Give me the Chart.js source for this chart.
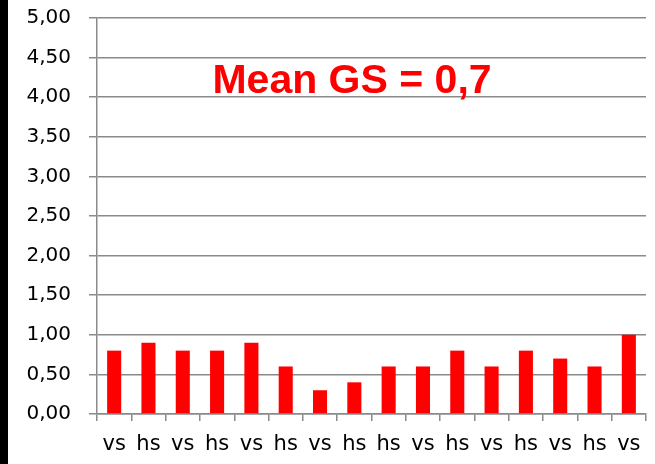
<!DOCTYPE html>
<html>
<head>
<meta charset="utf-8">
<script src="https://cdn.jsdelivr.net/npm/chart.js@4/dist/chart.umd.min.js"></script>
<style>
  html, body { margin: 0; padding: 0; background: #fff; }
  #wrap { position: relative; width: 655px; height: 464px; }
  #strip { position: absolute; left: 0; top: 0; width: 8px; height: 464px; background: #000; }
  canvas { position: absolute; left: 0; top: 0; }
</style>
</head>
<body>
<div id="wrap">
  <canvas id="chart" width="655" height="464"></canvas>
  <div id="strip"></div>
</div>
<script>
const categories = ["vs", "hs", "vs", "hs", "vs", "hs", "vs", "hs", "hs", "vs", "hs", "vs", "hs", "vs", "hs", "vs"];
const gsValues = [0.8, 0.9, 0.8, 0.8, 0.9, 0.6, 0.3, 0.4, 0.6, 0.6, 0.8, 0.6, 0.8, 0.7, 0.6, 1.0];
const meanLabel = "Mean GS = 0,7";

const gridColor = "#8a8a8a";

// text inside the plot, like the original annotation
const meanText = {
    id: "meanText",
    afterDraw(chart) {
        const ctx = chart.ctx;
        ctx.save();
        ctx.fillStyle = "#ff0000";
        ctx.font = "bold 41px 'Liberation Sans', Arial, sans-serif";
        ctx.textAlign = "center";
        ctx.textBaseline = "alphabetic";
        ctx.fillText(meanLabel, 352, 93);
        ctx.restore();
    }
};

new Chart(document.getElementById("chart"), {
    type: "bar",
    data: {
        labels: categories,
        datasets: [{ data: gsValues, backgroundColor: "#ff0000", borderWidth: 0, categoryPercentage: 1, barPercentage: 0.41 }]
    },
    options: {
        responsive: false,
        animation: false,
        layout: { padding: { left: 0, right: 9, top: 18, bottom: 0 } },
        plugins: { legend: { display: false }, tooltip: { enabled: false } },
        scales: {
            x: {
                offset: true,
                grid: { offset: true, drawOnChartArea: false, drawTicks: true, tickLength: 7, color: gridColor, lineWidth: 1.5 },
                border: { color: gridColor, width: 1.5 },
                ticks: { color: "#000", font: { family: "'DejaVu Sans', sans-serif", size: 21 }, padding: 11, maxRotation: 0, autoSkip: false },
                afterFit: s => { s.height = 50; s.paddingLeft = 0; s.paddingRight = 0; }
            },
            y: {
                min: 0, max: 5,
                grid: { color: gridColor, lineWidth: 1.5, tickLength: 8 },
                border: { color: gridColor, width: 1.5 },
                ticks: {
                    stepSize: 0.5, color: "#000", padding: 18,
                    font: { family: "'DejaVu Sans', sans-serif", size: 20 },
                    callback: v => v.toFixed(2).replace(".", ",")
                },
                afterFit: s => { s.width = 97; s.paddingTop = 0; s.paddingBottom = 0; }
            }
        }
    },
    plugins: [meanText]
});
</script>
</body>
</html>
